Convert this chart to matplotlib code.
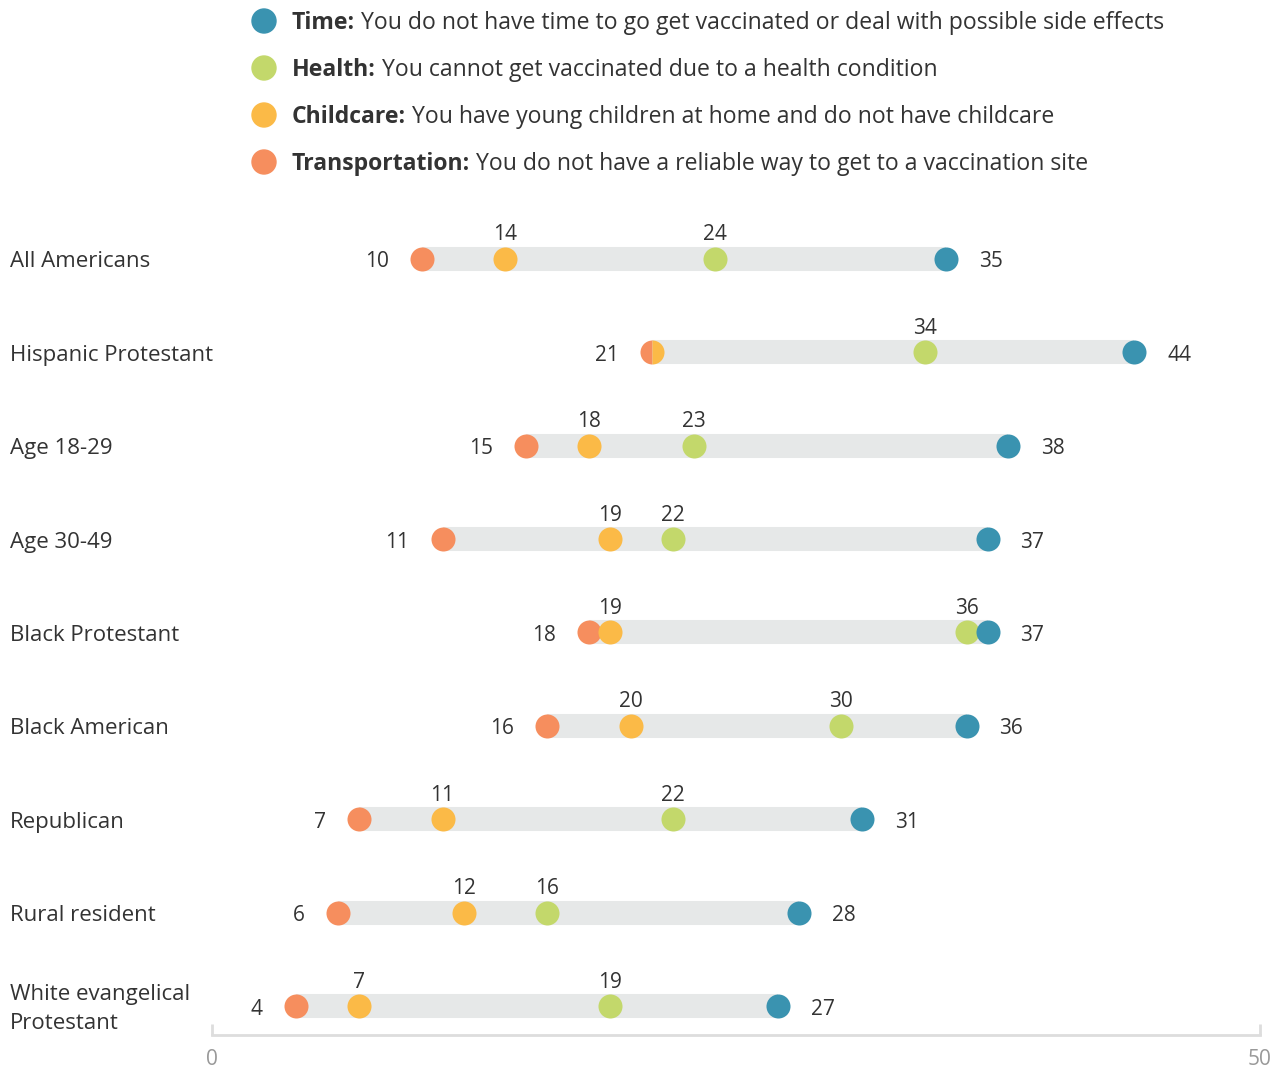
import matplotlib
matplotlib.use("Agg")
import matplotlib.pyplot as plt
from matplotlib.patches import Ellipse
from matplotlib.transforms import blended_transform_factory, offset_copy

plt.rcParams["font.family"] = ["Open Sans", "DejaVu Sans"]

# data (percent)
groups = ["All Americans", "Hispanic Protestant", "Age 18-29", "Age 30-49",
          "Black Protestant", "Black American", "Republican", "Rural resident",
          "White evangelical\nProtestant"]
time_vals = [35, 44, 38, 37, 37, 36, 31, 28, 27]
health_vals = [24, 34, 23, 22, 36, 30, 22, 16, 19]
childcare_vals = [14, 21, 18, 19, 19, 20, 11, 12, 7]
transport_vals = [10, 21, 15, 11, 18, 16, 7, 6, 4]

legend_bold = ["Time:", "Health:", "Childcare:", "Transportation:"]
legend_text = [" You do not have time to go get vaccinated or deal with possible side effects",
               " You cannot get vaccinated due to a health condition",
               " You have young children at home and do not have childcare",
               " You do not have a reliable way to get to a vaccination site"]

C_TIME = "#3a93b0"
C_HEALTH = "#c3d86b"
C_CHILD = "#fbba47"
C_TRANS = "#f68e5e"
C_BAR = "#e6e8e8"
C_TEXT = "#333333"
legend_colors = [C_TIME, C_HEALTH, C_CHILD, C_TRANS]

W, H = 1284, 1070
fig = plt.figure(figsize=(W / 100, H / 100), dpi=100)
ax = fig.add_axes([212 / W, (H - 1035) / H, (1260 - 212) / W, (1035 - 215) / H])
ax.set_xlim(0, 50)
ax.set_ylim(8.31, -0.47)

ms = 17.3  # marker diameter in points
fs = 15
fs_lab = 16

tr = offset_copy(blended_transform_factory(fig.transFigure, ax.transData),
                 fig=fig, y=-3, units="dots")

for i, g in enumerate(groups):
    lo = min(transport_vals[i], childcare_vals[i], health_vals[i], time_vals[i])
    hi = max(transport_vals[i], childcare_vals[i], health_vals[i], time_vals[i])
    ax.plot([lo, hi], [i, i], color=C_BAR, lw=17.3, solid_capstyle="butt", zorder=1)

    if transport_vals[i] == childcare_vals[i]:
        ax.plot(transport_vals[i], i, "o", ms=ms, fillstyle="left",
                markerfacecolor=C_TRANS, markerfacecoloralt=C_CHILD,
                markeredgewidth=0, zorder=3)
    else:
        ax.plot(transport_vals[i], i, "o", ms=ms, color=C_TRANS, mew=0, zorder=3)
        ax.plot(childcare_vals[i], i, "o", ms=ms, color=C_CHILD, mew=0, zorder=3)
        ax.annotate(str(childcare_vals[i]), (childcare_vals[i], i), xytext=(0, 24),
                    textcoords="offset pixels", ha="center", va="center",
                    fontsize=fs, color=C_TEXT)
    ax.plot(health_vals[i], i, "o", ms=ms, color=C_HEALTH, mew=0, zorder=3)
    ax.plot(time_vals[i], i, "o", ms=ms, color=C_TIME, mew=0, zorder=4)

    ax.annotate(str(health_vals[i]), (health_vals[i], i), xytext=(0, 24),
                textcoords="offset pixels", ha="center", va="center",
                fontsize=fs, color=C_TEXT)
    ax.annotate(str(transport_vals[i]), (transport_vals[i], i), xytext=(-33, -3),
                textcoords="offset pixels", ha="right", va="center",
                fontsize=fs, color=C_TEXT)
    ax.annotate(str(time_vals[i]), (time_vals[i], i), xytext=(33, -3),
                textcoords="offset pixels", ha="left", va="center",
                fontsize=fs, color=C_TEXT)

    ax.text(10 / W, i, g, transform=tr, ha="left", va="center",
            fontsize=fs_lab, color=C_TEXT, linespacing=1.45)

for s in ["top", "right", "left"]:
    ax.spines[s].set_visible(False)
ax.spines["bottom"].set_color("#dddddd")
ax.spines["bottom"].set_linewidth(2)
ax.set_yticks([])
ax.set_xticks([0, 50])
ax.tick_params(axis="x", direction="in", length=8, width=2, color="#dddddd",
               labelcolor="#999999", labelsize=fs, pad=10)

# legend
renderer = fig.canvas.get_renderer()
for k in range(4):
    ypix = 21 + 47 * k
    yf = 1 - ypix / H
    fig.add_artist(Ellipse((264 / W, yf), 24 / W, 24 / H, transform=fig.transFigure,
                           color=legend_colors[k]))
    t = fig.text(292 / W, yf - 2 / H, legend_bold[k], fontsize=16.6, fontweight="bold",
                 color=C_TEXT, ha="left", va="center")
    bb = t.get_window_extent(renderer)
    fig.text(bb.x1 / W, yf - 2 / H, legend_text[k], fontsize=16.6, color=C_TEXT,
             ha="left", va="center")

fig.savefig("out.png", dpi=100)
